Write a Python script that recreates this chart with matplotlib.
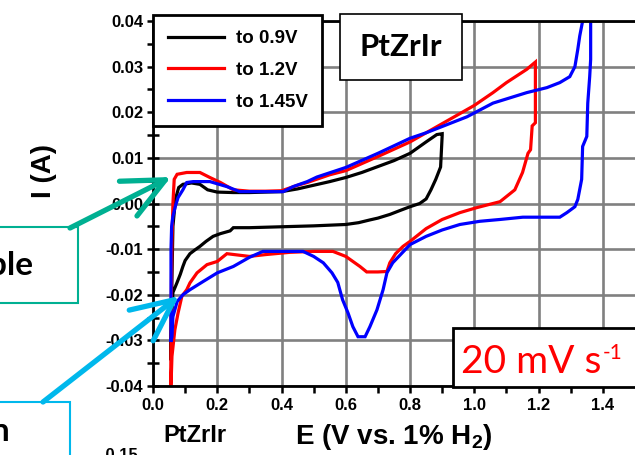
import numpy as np
import matplotlib.pyplot as plt
from matplotlib.patches import Rectangle, FancyArrowPatch

# CV data: E in V, I in A, one closed loop per upper limit
E_09 = [0.055, 0.058, 0.062, 0.070, 0.080, 0.093, 0.12, 0.146, 0.17, 0.20, 0.25, 0.30, 0.35, 0.40,
        0.45, 0.50, 0.55, 0.60, 0.65, 0.70, 0.75, 0.80, 0.85, 0.883, 0.90,
        0.90, 0.895, 0.88, 0.865, 0.85, 0.83, 0.80, 0.77, 0.737, 0.70, 0.675, 0.64, 0.60, 0.50,
        0.40, 0.30, 0.25, 0.24, 0.21, 0.187, 0.165, 0.146, 0.13, 0.115, 0.10, 0.093, 0.085,
        0.075, 0.068, 0.062, 0.058, 0.055]
I_09 = [-0.034, -0.02, -0.005, 0.001, 0.0035, 0.0042, 0.0045, 0.0042, 0.003, 0.0025, 0.0024,
        0.0024, 0.0025, 0.0026, 0.0032, 0.0040, 0.0048, 0.0057, 0.0068, 0.0081, 0.0094, 0.011,
        0.0135, 0.0151, 0.0153,
        0.0150, 0.008, 0.0053, 0.003, 0.001, 0.0, -0.0007, -0.0015, -0.0024, -0.0032, -0.0036,
        -0.0042, -0.0046, -0.0049, -0.0051, -0.0053, -0.0053, -0.006, -0.0066, -0.0072, -0.0083,
        -0.0094, -0.0102, -0.011, -0.0125, -0.0138, -0.0155, -0.0173, -0.0185, -0.0195, -0.025,
        -0.034]

E_12 = [0.055, 0.057, 0.059, 0.062, 0.066, 0.075, 0.105, 0.146, 0.177, 0.21, 0.25, 0.30, 0.35,
        0.40, 0.45, 0.48, 0.55, 0.60, 0.70, 0.80, 0.85, 0.95, 1.00, 1.058, 1.10, 1.163, 1.19,
        1.19, 1.18, 1.175, 1.167, 1.15, 1.126, 1.08, 1.008, 0.955, 0.90, 0.85, 0.80, 0.778,
        0.755, 0.737, 0.728, 0.70, 0.665, 0.644, 0.60, 0.56, 0.50, 0.426, 0.35, 0.30, 0.23, 0.20,
        0.168, 0.137, 0.115, 0.105, 0.09, 0.078, 0.068, 0.059, 0.056]
I_12 = [-0.040, -0.02, -0.008, 0.0, 0.0053, 0.0064, 0.0068, 0.0068, 0.0057, 0.0046, 0.003,
        0.0027, 0.0027, 0.0028, 0.0040, 0.0046, 0.0063, 0.0072, 0.0103, 0.0135, 0.0155, 0.0195,
        0.0215, 0.0243, 0.0265, 0.0294, 0.031,
        0.0177, 0.017, 0.0118, 0.011, 0.0068, 0.003, 0.0004, -0.0009, -0.002, -0.0035, -0.0055,
        -0.0083, -0.0094, -0.011, -0.013, -0.0149, -0.015, -0.015, -0.0138, -0.0116, -0.0105,
        -0.0105, -0.0107, -0.0112, -0.0116, -0.011, -0.0127, -0.0134, -0.0152, -0.0174, -0.0189,
        -0.0203, -0.024, -0.0277, -0.0335, -0.040]

E_145 = [0.056, 0.056, 0.058, 0.062, 0.07, 0.078, 0.093, 0.105, 0.125, 0.177, 0.23, 0.27, 0.405,
         0.436, 0.48, 0.51, 0.60, 0.70, 0.80, 0.85, 0.977, 1.058, 1.163, 1.226, 1.266, 1.297,
         1.313, 1.322, 1.328, 1.337, 1.345,
         1.365, 1.362, 1.362, 1.359, 1.353, 1.35, 1.337, 1.334, 1.322, 1.313, 1.288, 1.266,
         1.151, 1.08, 1.017, 0.955, 0.90, 0.85, 0.80, 0.746, 0.728, 0.716, 0.697, 0.675, 0.66,
         0.638, 0.622, 0.607, 0.59, 0.575, 0.557, 0.53, 0.50, 0.467, 0.342, 0.30, 0.25, 0.20,
         0.156, 0.115, 0.093, 0.075, 0.062, 0.059, 0.056]
I_145 = [-0.030, -0.01, -0.005, -0.0028, -0.0005, 0.0013, 0.003, 0.0046, 0.0048, 0.0048, 0.0037,
         0.0026, 0.0026, 0.0037, 0.0048, 0.0058, 0.0079, 0.011, 0.0143, 0.0155, 0.019, 0.022,
         0.0243, 0.0254, 0.0265, 0.0278, 0.030, 0.0338, 0.0367, 0.040, 0.05,
         0.05, 0.040, 0.0316, 0.0278, 0.022, 0.0147, 0.0125, 0.0053, 0.0009, -0.0007, -0.002,
         -0.003, -0.003, -0.0035, -0.0039, -0.0046, -0.0058, -0.0072, -0.009, -0.013, -0.0152,
         -0.0189, -0.0233, -0.027, -0.0292, -0.0292, -0.027, -0.024, -0.0211, -0.0173, -0.0152,
         -0.013, -0.0116, -0.0105, -0.0105, -0.0118, -0.0138, -0.0152, -0.0171, -0.0189, -0.02,
         -0.0215, -0.0248, -0.0292, -0.030]

labels = ['to 0.9V', 'to 1.2V', 'to 1.45V']
colors = ['black', '#ff0000', '#0000ff']

plt.rcParams['font.family'] = ['Liberation Sans', 'DejaVu Sans']
plt.rcParams['font.weight'] = 'bold'
plt.rcParams['mathtext.fontset'] = 'custom'
plt.rcParams['mathtext.rm'] = 'Liberation Sans:bold'
plt.rcParams['mathtext.bf'] = 'Liberation Sans:bold'
plt.rcParams['mathtext.default'] = 'regular'

W, H = 635, 455
fig = plt.figure(figsize=(W / 100, H / 100), dpi=100)


def fx(x, y):
    # pixel position (from top-left) to figure fraction
    return (x / W, 1 - y / H)


ax = fig.add_axes([153 / W, (H - 386) / H, 482 / W, 365 / H])

for E, I, c, lab in zip([E_09, E_12, E_145], [I_09, I_12, I_145], colors, labels):
    ax.plot(E, I, color=c, lw=2.3, label=lab, solid_joinstyle='miter')

ax.set_xlim(0, 1.5)
ax.set_ylim(-0.04, 0.04)
ax.set_xticks(np.arange(0, 1.41, 0.2))
ax.set_xticks(np.arange(0.1, 1.5, 0.2), minor=True)
ax.set_yticks(np.arange(-0.04, 0.041, 0.01))
ax.set_yticks(np.arange(-0.035, 0.04, 0.01), minor=True)
ax.set_xticklabels(['%.1f' % v for v in np.arange(0, 1.41, 0.2)])
ax.set_yticklabels(['%.2f' % v if abs(v) > 1e-9 else '0.00' for v in np.arange(-0.04, 0.041, 0.01)])
ax.grid(True, which='major', color='#808080', lw=1.9)
ax.set_axisbelow(True)

for s in ['left', 'bottom', 'top']:
    ax.spines[s].set_linewidth(2)
ax.spines['right'].set_visible(False)
ax.tick_params(axis='y', which='both', direction='inout', length=8, width=1.8, pad=3, labelsize=12)
ax.tick_params(axis='x', which='both', direction='out', length=5, width=1.8, pad=4, labelsize=12)

ax.set_xlabel('E (V vs. 1% H$_2$)', fontsize=20, fontweight='bold')
ax.xaxis.set_label_coords(0.5, -0.1)
ax.set_ylabel('I (A)', fontsize=20, fontweight='bold')
ax.yaxis.set_label_coords(-0.2, 0.59)

leg = ax.legend(loc='upper left', bbox_to_anchor=fx(153, 15), bbox_transform=fig.transFigure,
                fancybox=False, framealpha=1, edgecolor='black', borderpad=0.8,
                handlelength=3.0, handletextpad=0.6, labelspacing=0.78,
                prop={'size': 13.5, 'weight': 'bold'}, borderaxespad=0)
leg.get_frame().set_linewidth(2)

# sample name box
fig.text(*fx(401, 47), 'PtZrIr', family='Lato', fontsize=22.5, fontweight='bold',
         ha='center', va='center',
         bbox=dict(boxstyle='square,pad=0.62', fc='white', ec='black', lw=1.2))

# scan-rate box
fig.patches.append(Rectangle(fx(453, 387), 200 / W, 59 / H, transform=fig.transFigure,
                             fc='white', ec='black', lw=2, zorder=3))
fig.text(*fx(461, 373), '20 mV s', family='Lato', fontsize=28,
         fontweight='normal', color='#ff0000', ha='left', va='baseline', zorder=4)
fig.text(*fx(603, 359), '-1', family='Lato', fontsize=15,
         fontweight='normal', color='#ff0000', ha='left', va='baseline', zorder=4)

# label under axis
fig.text(*fx(195, 442), 'PtZrIr', fontsize=17, fontweight='bold', ha='center', va='baseline')
fig.text(*fx(138, 448), '-0.15', fontsize=12, fontweight='bold', ha='right', va='top')

# cropped callout boxes on the left
teal = '#00b092'
cyan = '#00b8ec'
fig.patches.append(Rectangle(fx(-10, 303), 88 / W, 76 / H, transform=fig.transFigure,
                             fc='white', ec=teal, lw=1.5, zorder=3))
fig.text(*fx(33, 275), 'ble', family='Lato', fontsize=24, fontweight='bold',
         ha='right', va='baseline', zorder=4)
fig.patches.append(Rectangle(fx(-10, 470), 80 / W, 68 / H, transform=fig.transFigure,
                             fc='white', ec=cyan, lw=1.5, zorder=3))
fig.text(*fx(10, 441), 'n', family='Lato', fontsize=24, fontweight='bold',
         ha='right', va='baseline', zorder=4)

for (x0, y0), (x1, y1), c in [((70, 228), (171, 177), teal), ((43, 402), (179, 296), cyan)]:
    arr = FancyArrowPatch(fx(x0, y0), fx(x1, y1), transform=fig.transFigure,
                          arrowstyle='->,head_length=1.5,head_width=0.7', mutation_scale=20,
                          color=c, lw=3.8, capstyle='round', joinstyle='round',
                          shrinkA=0, shrinkB=0, zorder=5)
    fig.patches.append(arr)

fig.savefig('out.png', dpi=100)
